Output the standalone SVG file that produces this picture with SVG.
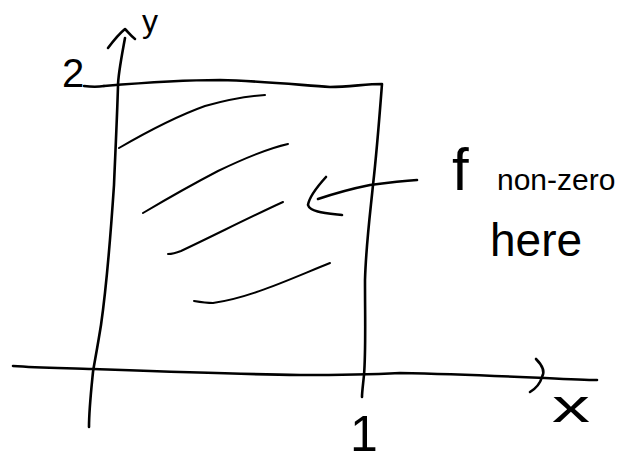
<svg xmlns="http://www.w3.org/2000/svg" width="631" height="461" viewBox="0 0 631 461">
<style>
.ink{fill:none;stroke:#000;stroke-linecap:round;stroke-linejoin:round}
.main{stroke-width:2.6}
.thin{stroke-width:2}
.lbl{font-family:"Liberation Sans",Arial,sans-serif;fill:#000}
</style>
<rect width="631" height="461" fill="#fff"/>
<g id="y-axis">
<path class="ink main" d="M125,38 C121,60 118,75 118,86 C117,120 115,160 114,185 C111,230 106,290 101,325 C97,350 94,365 93,372 C91,392 89,410 89,427"/>
<path class="ink main" d="M108,48 C114,40 120,33 125,29 C128,32 131,36 135,39"/>
<text class="lbl" x="142" y="32" font-size="32">y</text>
<text class="lbl" x="62" y="87" font-size="40">2</text>
<path class="ink main" d="M84,86 C92,87 98,87 104,86"/>
</g>
<g id="x-axis">
<path class="ink main" d="M13,366 C40,368 70,368 94,369 C150,371 230,374 300,375 C350,375 380,374 400,373 C450,374 500,376 545,378 C565,379 585,380 597,380"/>
<path class="ink main" d="M536,359 C543,366 545,372 542,377 C540,384 535,389 530,392"/>
<text class="lbl" x="552" y="422" font-size="46" textLength="38" lengthAdjust="spacingAndGlyphs">x</text>
<text class="lbl" x="350" y="451" font-size="50">1</text>
</g>
<g id="region">
<path class="ink main" d="M104,86 C140,83 180,80 220,80 C260,81 300,85 330,87 C350,87 365,84 382,84 C380,110 377,150 373,185 C370,215 366,245 365,280 C365,320 366,350 364,375 C363,385 362,392 362,397"/>
</g>
<g id="hatching">
<path class="ink thin" d="M119,148 C150,130 180,115 205,106 C230,99 250,96 265,95"/>
<path class="ink thin" d="M143,213 C170,197 195,183 218,171 C245,158 270,148 288,144"/>
<path class="ink thin" d="M168,254 C172,254 176,253 181,251 C215,235 250,217 283,202"/>
<path class="ink thin" d="M194,301 C200,302 206,303 213,303 C250,298 290,279 330,263"/>
</g>
<g id="connectors">
<path class="ink main" d="M417,180 C400,181 385,183 370,185 C350,189 333,194 318,199"/>
<path class="ink main" d="M326,177 C316,188 309,198 308,205 C310,212 325,213 342,215"/>
</g>
<g id="annotation">
<text class="lbl"><tspan x="452" y="190" font-size="60">f</tspan><tspan x="497" y="190" font-size="30">non-zero</tspan></text>
<text class="lbl" x="490" y="256" font-size="46">here</text>
</g>
</svg>
